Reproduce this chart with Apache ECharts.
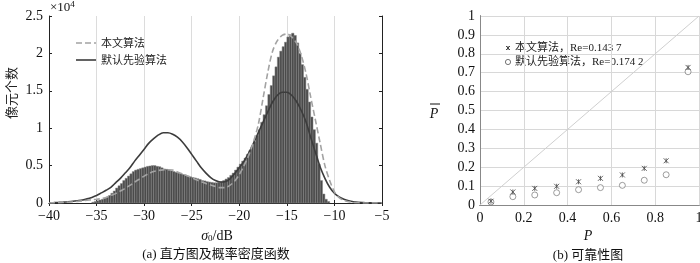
<!DOCTYPE html>
<html>
<head>
<meta charset="utf-8">
<script src="https://cdn.jsdelivr.net/npm/echarts@6/dist/echarts.min.js"></script>
<style>html,body{margin:0;padding:0;background:#fff}#c{width:700px;height:263px}</style>
</head>
<body>
<div id="c"></div>
<script>
// ---------- Panel (a): histogram and density curves (values in units of 1e4 pixels) ----------
const histStart = -35.5;      // left edge of first bin (dB)
const histBinWidth = 0.25;    // bin width (dB)
const histCounts = [
  0.01,0.02,0.03,0.04,0.05,0.065,0.08,0.10,0.13,0.16,
  0.20,0.23,0.26,0.30,0.33,0.36,0.39,0.42,0.44,0.45,
  0.46,0.47,0.48,0.49,0.495,0.50,0.50,0.49,0.485,0.47,
  0.455,0.45,0.44,0.43,0.42,0.41,0.40,0.395,0.38,0.37,
  0.36,0.35,0.34,0.335,0.325,0.315,0.30,0.295,0.285,0.28,
  0.275,0.27,0.27,0.275,0.285,0.30,0.32,0.34,0.37,0.40,
  0.44,0.48,0.52,0.56,0.60,0.65,0.70,0.76,0.82,0.90,
  0.98,1.08,1.18,1.30,1.45,1.57,1.70,1.82,1.95,2.03,
  2.09,2.15,2.22,2.25,2.27,2.24,2.14,2.00,1.85,1.68,
  1.52,1.35,1.15,0.98,0.80,0.52,0.30,0.12,0.05,0.02
];
const curveStart = -40, curveStep = 0.5;
const curveProposed = [ // 本文算法 (dashed)
  0.001,0.002,0.004,0.007,0.011,0.016,0.022,0.029,0.036,0.043,
  0.05,0.058,0.075,0.10,0.125,0.16,0.195,0.235,0.28,0.32,
  0.36,0.395,0.42,0.435,0.443,0.445,0.44,0.415,0.39,0.365,
  0.34,0.31,0.285,0.26,0.24,0.22,0.205,0.205,0.235,0.29,
  0.38,0.50,0.64,0.82,1.05,1.40,1.75,2.03,2.17,2.24,
  2.26,2.22,2.14,1.98,1.74,1.42,1.11,0.80,0.50,0.30,
  0.15,0.07,0.035,0.017,0.008,0.003,0.001,0,0,0,0
];
const curveDefault = [ // 默认先验算法 (solid)
  0.003,0.005,0.008,0.012,0.017,0.023,0.031,0.04,0.055,0.075,
  0.10,0.135,0.17,0.21,0.27,0.33,0.40,0.47,0.56,0.64,
  0.72,0.80,0.86,0.91,0.94,0.94,0.92,0.88,0.82,0.74,
  0.65,0.56,0.47,0.40,0.34,0.30,0.28,0.285,0.32,0.39,
  0.47,0.56,0.67,0.80,0.94,1.08,1.22,1.35,1.44,1.48,
  1.48,1.44,1.36,1.24,1.09,0.88,0.68,0.48,0.33,0.21,
  0.13,0.08,0.05,0.03,0.017,0.009,0.005,0.002,0.001,0,0
];
const histYTickLabels = ['0','0.5','1','1.5','2','2.5'];

// ---------- Panel (b): reliability diagram ----------
const relP = [0.05,0.15,0.25,0.35,0.45,0.55,0.65,0.75,0.85,0.95];
const relProposed = [0.020,0.069,0.088,0.099,0.123,0.141,0.159,0.194,0.234,0.728];
const relDefault  = [0.016,0.044,0.053,0.065,0.081,0.092,0.104,0.131,0.160,0.705];
const diagLine = [[0,0],[1,1]];
const legendA = ['本文算法','默认先验算法'];
const legendB = ['本文算法，Re=0.143 7','默认先验算法，Re=0.174 2'];

const SCALE = 10000;
const SERIF = "'Liberation Serif','Noto Sans CJK SC'";
const CJK = "'Noto Sans CJK SC','Liberation Serif'";
const minus = s => String(s).replace('-', '\u2212');

const histData = histCounts.map((c, i) => [histStart + i*histBinWidth, histStart + (i+1)*histBinWidth, c*SCALE]);
const propData = curveProposed.map((v, i) => [curveStart + i*curveStep, v*SCALE]);
const defData = curveDefault.map((v, i) => [curveStart + i*curveStep, v*SCALE]);

const labelStyle = {fontFamily: SERIF, fontSize: 14, color: '#111'};
const boxLine = {show: true, lineStyle: {color: '#222', width: 1}};

const chart = echarts.init(document.getElementById('c'), null, {renderer: 'canvas'});
chart.setOption({
  animation: false,
  backgroundColor: '#fff',
  grid: [
    {left: 49, top: 16, width: 333, height: 187, outerBoundsMode: 'none', containLabel: false},
    {left: 480, top: 16, width: 219, height: 189, outerBoundsMode: 'none', containLabel: false}
  ],
  xAxis: [
    {type: 'value', gridIndex: 0, min: -40, max: -5, interval: 5, position: 'bottom',
     axisLine: boxLine, axisTick: {show: true, inside: true, length: 3, lineStyle: {color: '#222'}},
     axisLabel: Object.assign({margin: 6, formatter: v => minus(v)}, labelStyle),
     splitLine: {show: true, lineStyle: {color: '#dcdcdc', width: 1}}},
    {type: 'value', gridIndex: 0, min: -40, max: -5, interval: 5, position: 'top',
     axisLine: boxLine, axisTick: {show: true, inside: true, length: 3, lineStyle: {color: '#222'}},
     axisLabel: {show: false}, splitLine: {show: false}},
    {type: 'value', gridIndex: 1, min: 0, max: 1, interval: 0.2, position: 'bottom',
     axisLine: boxLine, axisTick: {show: false},
     axisLabel: Object.assign({margin: 6, formatter: v => String(Math.round(v*10)/10)}, labelStyle),
     splitLine: {show: true, lineStyle: {color: '#d8d8d8', width: 1}}},
    {type: 'value', gridIndex: 1, min: 0, max: 1, interval: 0.2, position: 'top',
     axisLine: {show: true, lineStyle: {color: '#888', width: 1}}, axisTick: {show: false},
     axisLabel: {show: false}, splitLine: {show: false}}
  ],
  yAxis: [
    {type: 'value', gridIndex: 0, min: 0, max: 25000, interval: 5000, position: 'left',
     axisLine: boxLine, axisTick: {show: true, inside: true, length: 3, lineStyle: {color: '#222'}},
     axisLabel: Object.assign({margin: 6, formatter: v => histYTickLabels[Math.round(v/5000)]}, labelStyle),
     splitLine: {show: false}},
    {type: 'value', gridIndex: 0, min: 0, max: 25000, interval: 5000, position: 'right',
     axisLine: boxLine, axisTick: {show: true, inside: true, length: 3, lineStyle: {color: '#222'}},
     axisLabel: {show: false}, splitLine: {show: false}},
    {type: 'value', gridIndex: 1, min: 0, max: 1, interval: 0.1, position: 'left',
     axisLine: boxLine, axisTick: {show: false},
     axisLabel: Object.assign({margin: 5, formatter: v => String(Math.round(v*10)/10)}, labelStyle),
     splitLine: {show: true, lineStyle: {color: '#d8d8d8', width: 1}}},
    {type: 'value', gridIndex: 1, min: 0, max: 1, interval: 0.1, position: 'right',
     axisLine: {show: true, lineStyle: {color: '#888', width: 1}}, axisTick: {show: false},
     axisLabel: {show: false}, splitLine: {show: false}}
  ],
  series: [
    {type: 'custom', xAxisIndex: 0, yAxisIndex: 0, data: histData, encode: {x: [0, 1], y: 2},
     renderItem: (params, api) => {
       const p0 = api.coord([api.value(0), 0]);
       const p1 = api.coord([api.value(1), api.value(2)]);
       return {type: 'rect', shape: {x: p0[0], y: p1[1], width: p1[0]-p0[0], height: p0[1]-p1[1]},
               style: {fill: '#4a4a4a', stroke: '#858585', lineWidth: 0.5}};
     }, z: 2},
    {type: 'line', xAxisIndex: 0, yAxisIndex: 0, data: propData, smooth: 0.3, showSymbol: false,
     lineStyle: {color: '#a3a3a3', width: 1.6, type: [6, 3]}, z: 4},
    {type: 'line', xAxisIndex: 0, yAxisIndex: 0, data: defData, smooth: 0.3, showSymbol: false,
     lineStyle: {color: '#3c3c3c', width: 1.6}, z: 3},
    {type: 'line', xAxisIndex: 2, yAxisIndex: 2, data: diagLine, showSymbol: false,
     lineStyle: {color: '#cfcfcf', width: 1}, z: 2},
    {type: 'scatter', xAxisIndex: 2, yAxisIndex: 2, data: relP.map((p, i) => [p, relDefault[i]]),
     symbol: 'circle', symbolSize: 6, itemStyle: {color: '#fff', borderColor: '#666', borderWidth: 0.8}, z: 3},
    {type: 'scatter', xAxisIndex: 2, yAxisIndex: 2, data: relP.map((p, i) => [p, relProposed[i]]),
     symbol: 'path://M0,0L10,10M10,0L0,10M5,0L5,10', symbolSize: 5,
     itemStyle: {color: 'none', borderColor: '#444', borderWidth: 1}, z: 4}
  ],
  graphic: [
    // panel a decorations
    {type: 'text', left: 50, top: 0, style: {text: '×10{s|4}', font: "13px " + SERIF, fill: '#111',
      rich: {s: {fontSize: 9, fontFamily: SERIF, verticalAlign: 'top', padding: [0, 0, 6, 0]}}}},
    {type: 'text', x: 11, y: 93, rotation: Math.PI/2, style: {text: '像元个数', font: "13px " + CJK, fill: '#222', align: 'center', verticalAlign: 'middle'}},
    {type: 'line', shape: {x1: 76, y1: 43, x2: 97, y2: 43}, style: {stroke: '#a3a3a3', lineWidth: 1.6, lineDash: [6, 3]}},
    {type: 'text', x: 101, y: 43, style: {text: legendA[0], font: "11px " + CJK, fill: '#222', verticalAlign: 'middle'}},
    {type: 'line', shape: {x1: 76, y1: 60, x2: 97, y2: 60}, style: {stroke: '#3c3c3c', lineWidth: 1.6}},
    {type: 'text', x: 101, y: 60, style: {text: legendA[1], font: "11px " + CJK, fill: '#222', verticalAlign: 'middle'}},
    {type: 'text', x: 217, y: 236, style: {text: '{i|σ}{s|0}/dB', font: "14px " + SERIF, fill: '#111', align: 'center', verticalAlign: 'middle',
      rich: {i: {fontStyle: 'italic', fontSize: 14, fontFamily: SERIF}, s: {fontSize: 9, fontFamily: SERIF, padding: [6, 0, 0, 0]}}}},
    {type: 'text', x: 216, y: 255, style: {text: '(a) 直方图及概率密度函数', font: "13px " + SERIF, fill: '#111', align: 'center', verticalAlign: 'middle'}},
    // panel b decorations
    {type: 'text', x: 434, y: 114, style: {text: 'P', font: "italic 14px " + SERIF, fill: '#111', align: 'center', verticalAlign: 'middle'}},
    {type: 'line', shape: {x1: 430, y1: 104, x2: 440, y2: 104}, style: {stroke: '#111', lineWidth: 1}},
    {type: 'text', x: 588, y: 236, style: {text: 'P', font: "italic 14px " + SERIF, fill: '#111', align: 'center', verticalAlign: 'middle'}},
    {type: 'text', x: 588, y: 256, style: {text: '(b) 可靠性图', font: "13px " + SERIF, fill: '#111', align: 'center', verticalAlign: 'middle'}},
    {type: 'line', shape: {x1: 506, y1: 46, x2: 510, y2: 50}, style: {stroke: '#444', lineWidth: 1}},
    {type: 'line', shape: {x1: 510, y1: 46, x2: 506, y2: 50}, style: {stroke: '#444', lineWidth: 1}},
    {type: 'line', shape: {x1: 508, y1: 46, x2: 508, y2: 50}, style: {stroke: '#444', lineWidth: 1}},
    {type: 'circle', shape: {cx: 508, cy: 62, r: 2.6}, style: {stroke: '#666', lineWidth: 0.9, fill: '#fff'}},
    {type: 'text', x: 515, y: 48, style: {text: legendB[0], font: "11px " + SERIF, fill: '#222', verticalAlign: 'middle'}},
    {type: 'text', x: 515, y: 62, style: {text: legendB[1], font: "11px " + SERIF, fill: '#222', verticalAlign: 'middle'}}
  ]
});
</script>
</body>
</html>
